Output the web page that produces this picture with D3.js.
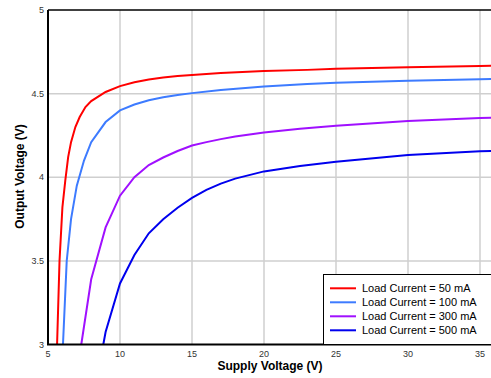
<!DOCTYPE html>
<html>
<head>
<style>
  body { margin: 0; background: #fff; }
  text { font-family: Arial, "Liberation Sans", sans-serif; }
</style>
</head>
<body>
<svg></svg>
<script src="https://d3js.org/d3.v7.min.js"></script>
<script>
const seriesNames = ["Load Current = 50 mA", "Load Current = 100 mA", "Load Current = 300 mA", "Load Current = 500 mA"];
const seriesColors = ["#ff0000", "#3d7bff", "#a010ff", "#0000ee"];

// [supply voltage, output voltage]
const load50 = [[5.63,3.0],[5.8,3.5],[6.0,3.82],[6.2,3.98],[6.4,4.12],[6.6,4.21],[6.9,4.3],[7.2,4.36],[7.6,4.42],[8,4.455],[9,4.51],[10,4.545],[11,4.568],[12,4.585],[13,4.597],[14,4.605],[15,4.612],[17,4.623],[20,4.636],[23,4.642],[25,4.648],[30,4.657],[35,4.665],[36,4.667]];
const load100 = [[6.04,3.0],[6.3,3.5],[6.6,3.75],[7,3.95],[7.5,4.1],[8,4.21],[9,4.33],[10,4.40],[11,4.435],[12,4.46],[13,4.478],[14,4.492],[15,4.503],[17,4.522],[20,4.542],[23,4.558],[25,4.565],[30,4.577],[35,4.586],[36,4.588]];
const load300 = [[7.31,3.0],[8,3.39],[9,3.70],[10,3.89],[11,4.0],[12,4.073],[13,4.118],[14,4.157],[15,4.19],[16,4.21],[17,4.228],[18,4.243],[20,4.268],[22.5,4.29],[25,4.308],[30,4.336],[35,4.354],[36,4.357]];
const load500 = [[8.84,3.0],[9,3.075],[10,3.365],[11,3.535],[12,3.665],[13,3.749],[14,3.818],[15,3.877],[16,3.925],[17,3.962],[18,3.992],[20,4.035],[22.5,4.067],[25,4.093],[30,4.133],[35,4.155],[36,4.157]];
const allSeries = [load50, load100, load300, load500];

const xTicks = [5, 10, 15, 20, 25, 30, 35];
const yTicks = [3, 3.5, 4, 4.5, 5];

const width = 491, height = 378;
const plotLeft = 48, plotTop = 10, plotBottom = 344.5;

const x = d3.scaleLinear().domain([5, 36]).range([plotLeft, plotLeft + 31 * 14.4]);
const y = d3.scaleLinear().domain([3, 5]).range([plotBottom, plotTop]);

const svg = d3.select("svg").attr("width", width).attr("height", height);

// grid
svg.append("g").selectAll("line").data(xTicks.slice(1)).enter().append("line")
  .attr("x1", d => x(d)).attr("x2", d => x(d))
  .attr("y1", plotTop).attr("y2", plotBottom)
  .attr("stroke", "#cfcfcf").attr("stroke-width", 1.5);
svg.append("g").selectAll("line").data(yTicks.slice(1, -1)).enter().append("line")
  .attr("x1", plotLeft).attr("x2", width)
  .attr("y1", d => y(d)).attr("y2", d => y(d))
  .attr("stroke", "#cfcfcf").attr("stroke-width", 1.5);

// curves
const line = d3.line().x(d => x(d[0])).y(d => y(d[1]));
svg.append("defs").append("clipPath").attr("id", "clip")
  .append("rect").attr("x", plotLeft).attr("y", plotTop).attr("width", width - plotLeft).attr("height", plotBottom - plotTop);
svg.append("g").attr("clip-path", "url(#clip)")
  .selectAll("path").data(allSeries).enter().append("path")
  .attr("d", line)
  .attr("fill", "none")
  .attr("stroke", (d, i) => seriesColors[i])
  .attr("stroke-width", 2);

// frame
svg.append("line").attr("x1", plotLeft).attr("x2", width).attr("y1", plotTop).attr("y2", plotTop)
  .attr("stroke", "#000").attr("stroke-width", 1.5);
svg.append("line").attr("x1", plotLeft).attr("x2", plotLeft).attr("y1", plotTop).attr("y2", plotBottom)
  .attr("stroke", "#000").attr("stroke-width", 2);
svg.append("line").attr("x1", plotLeft - 1).attr("x2", width).attr("y1", plotBottom).attr("y2", plotBottom)
  .attr("stroke", "#000").attr("stroke-width", 2);

// tick labels
svg.append("g").selectAll("text").data(xTicks).enter().append("text")
  .attr("x", d => x(d)).attr("y", plotBottom + 12)
  .attr("text-anchor", "middle").attr("font-size", 9).attr("fill", "#333")
  .text(d => d);
svg.append("g").selectAll("text").data(yTicks).enter().append("text")
  .attr("x", plotLeft - 4).attr("y", d => y(d) + 3)
  .attr("text-anchor", "end").attr("font-size", 9).attr("fill", "#333")
  .text(d => d);

// axis titles
svg.append("text").attr("x", 270).attr("y", 369.5)
  .attr("text-anchor", "middle").attr("font-size", 12).attr("font-weight", "bold")
  .text("Supply Voltage (V)");
svg.append("text").attr("transform", "translate(24,176.5) rotate(-90)")
  .attr("text-anchor", "middle").attr("font-size", 12).attr("font-weight", "bold")
  .text("Output Voltage (V)");

// legend
const lg = svg.append("g");
lg.append("rect").attr("x", 323.5).attr("y", 274.5).attr("width", 180).attr("height", 70)
  .attr("fill", "#fff").attr("stroke", "#000").attr("stroke-width", 1);
const rows = lg.selectAll("g").data(seriesNames).enter().append("g")
  .attr("transform", (d, i) => "translate(0," + (288.3 + i * 14) + ")");
rows.append("line").attr("x1", 330).attr("x2", 356).attr("y1", 0).attr("y2", 0)
  .attr("stroke", (d, i) => seriesColors[i]).attr("stroke-width", 2);
rows.append("text").attr("x", 362).attr("y", 4)
  .attr("font-size", 11).attr("fill", "#000")
  .text(d => d);
</script>
</body>
</html>
